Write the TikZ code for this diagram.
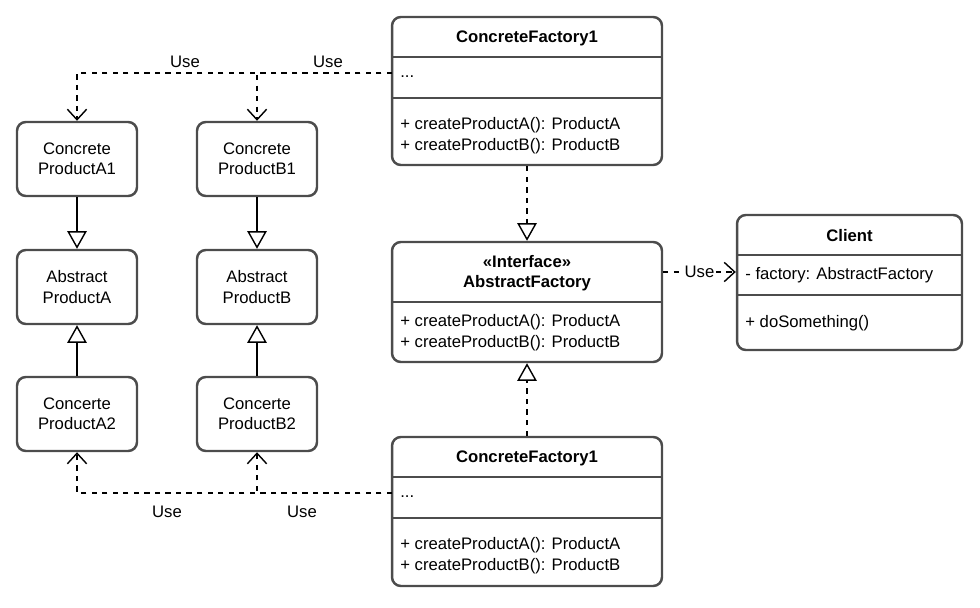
\documentclass[tikz,border=0pt]{standalone}
\usepackage{fontspec}
\setmainfont{Liberation Sans}
\usetikzlibrary{positioning,arrows.meta}
\tikzset{
  box/.style={rectangle, rounded corners=5pt, draw=black!70, line width=1.4pt, align=center, minimum width=2.4cm, minimum height=1.48cm, font=\fontsize{9.5}{11.5}\selectfont},
  cls/.style={rectangle, rounded corners=5pt, draw=black!70, line width=1.4pt, minimum width=5.4cm, inner sep=0pt},
  sep/.style={draw=black!70, line width=1pt},
  txt/.style={anchor=west, inner sep=0pt, font=\fontsize{9.5}{11.5}\selectfont},
  ttl/.style={inner sep=0pt, align=center, font=\fontsize{9.5}{11.5}\selectfont\bfseries},
  lbl/.style={inner sep=1pt, font=\fontsize{9.5}{11.5}\selectfont, fill=white},
  inherit/.style={-{Triangle[open, length=10pt, width=11pt]}, line width=0.8pt},
  realize/.style={inherit, dashed},
  use/.style={-{Straight Barb[length=6pt, width=11pt]}, dashed, line width=0.8pt}
}
\begin{document}
\begin{tikzpicture}[x=0.02cm, y=-0.02cm]
    \useasboundingbox (0,0) rectangle (980,608);
    % Products
    \node[box] (pa1) at (77,159) {Concrete\\ProductA1};
    \node[box] (pb1) at (257,159) {Concrete\\ProductB1};
    \node[box] (apa) at (77,287) {Abstract\\ProductA};
    \node[box] (apb) at (257,287) {Abstract\\ProductB};
    \node[box] (pa2) at (77,414) {Concerte\\ProductA2};
    \node[box] (pb2) at (257,414) {Concerte\\ProductB2};

    % ConcreteFactory1 (top)
    \node[cls, minimum height=2.96cm] (cf1) at (527,91) {};
    \draw[sep] (392,57) -- (662,57) (392,98) -- (662,98);
    \node[ttl] at (527,38) {ConcreteFactory1};
    \node[txt] at (400,77) {...};
    \node[txt] at (400,125) {+ createProductA(): ProductA};
    \node[txt] at (400,146) {+ createProductB(): ProductB};

    % AbstractFactory
    \node[cls, minimum height=2.4cm] (af) at (527,302) {};
    \draw[sep] (392,302) -- (662,302);
    \node[ttl] at (527,273) {<<Interface>>\\AbstractFactory};
    \node[txt] at (400,322) {+ createProductA(): ProductA};
    \node[txt] at (400,343) {+ createProductB(): ProductB};

    % ConcreteFactory1 (bottom)
    \node[cls, minimum height=2.98cm] (cf2) at (527,511.5) {};
    \draw[sep] (392,477) -- (662,477) (392,518) -- (662,518);
    \node[ttl] at (527,458) {ConcreteFactory1};
    \node[txt] at (400,497) {...};
    \node[txt] at (400,545) {+ createProductA(): ProductA};
    \node[txt] at (400,566) {+ createProductB(): ProductB};

    % Client
    \node[cls, minimum width=4.5cm, minimum height=2.7cm] (cl) at (849.5,282.5) {};
    \draw[sep] (737,255) -- (962,255) (737,295) -- (962,295);
    \node[ttl] at (849.5,236) {Client};
    \node[txt] at (745,275) {- factory: AbstractFactory};
    \node[txt] at (745,323) {+ doSomething()};

    % Connectors
    \coordinate (cf1use) at (392,73);
    \coordinate (cf2use) at (392,493);
    \draw[inherit] (pa1) -- (apa);
    \draw[inherit] (pb1) -- (apb);
    \draw[inherit] (pa2) -- (apa);
    \draw[inherit] (pb2) -- (apb);
    \draw[realize] (cf1) -- (af);
    \draw[realize] (cf2) -- (af);
    \draw[use] (cf1use) -| (pa1);
    \draw[use] (cf1use) -| (pb1);
    \draw[use] (cf2use) -| (pa2);
    \draw[use] (cf2use) -| (pb2);
    \draw[use] (af.east |- 0,272) -- node[lbl] {Use} (cl.west |- 0,272);
    \node[lbl, fill=none] at (185,62) {Use};
    \node[lbl, fill=none] at (328,62) {Use};
    \node[lbl, fill=none] at (167,512) {Use};
    \node[lbl, fill=none] at (302,512) {Use};
\end{tikzpicture}
\end{document}
